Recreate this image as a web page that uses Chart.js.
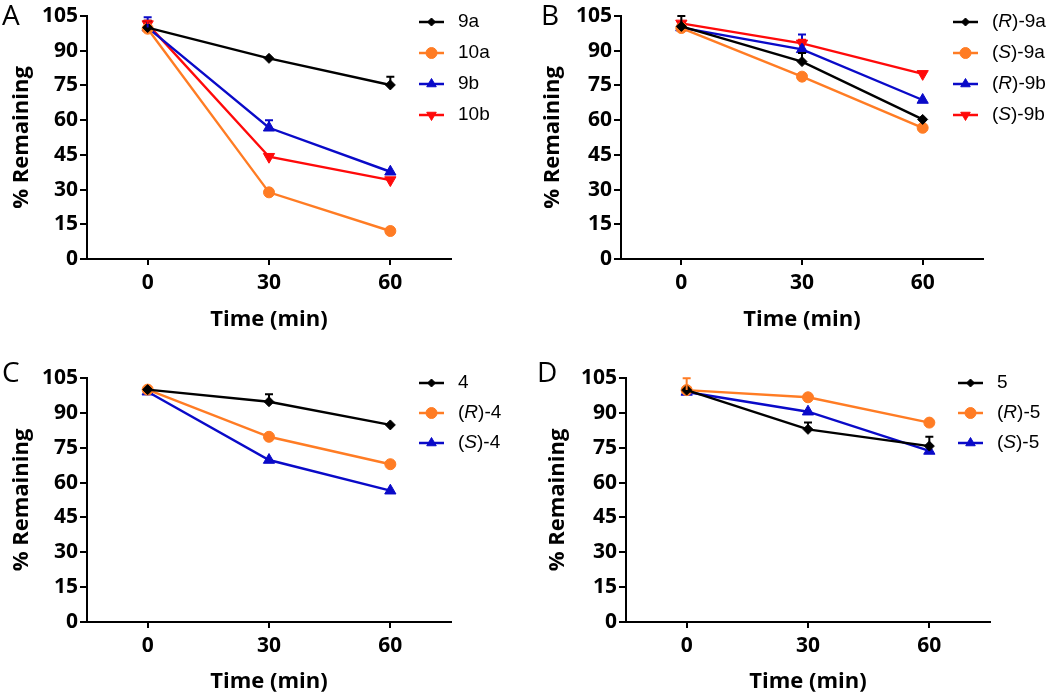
<!DOCTYPE html>
<html>
<head>
<meta charset="utf-8">
<script src="https://cdn.jsdelivr.net/npm/chart.js@4.4.0/dist/chart.umd.min.js"></script>
<style>
  body { margin: 0; background: #fff; width: 1050px; height: 698px; position: relative; overflow: hidden; }
  .panel { position: absolute; }
  .letter { position: absolute; font: 28px "Open Sans", sans-serif; line-height: 28px; color: #000; }
</style>
</head>
<body>
<div class="panel" style="left:0;top:0"><canvas id="chartA" width="525" height="340"></canvas></div>
<div class="panel" style="left:525px;top:0"><canvas id="chartB" width="525" height="340"></canvas></div>
<div class="panel" style="left:0;top:340px"><canvas id="chartC" width="525" height="358"></canvas></div>
<div class="panel" style="left:525px;top:340px"><canvas id="chartD" width="525" height="358"></canvas></div>
<div class="letter" style="left:2px;top:0">A</div>
<div class="letter" style="left:541px;top:0">B</div>
<div class="letter" style="left:2px;top:357px">C</div>
<div class="letter" style="left:537px;top:357px">D</div>
<script>
// time points (min) and axis ticks
const times = [0, 30, 60];
const xTicks = [0, 30, 60];
const yTicks = [0, 15, 30, 45, 60, 75, 90, 105];

// panel A
const labelsA = ["9a", "10a", "9b", "10b"];
const a9a = [100, 86.7, 75.2];
const a10a = [99.5, 28.8, 12.1];
const a9b = [100, 56.7, 37.7];
const a10b = [101.5, 44.2, 34.1];
const errA9a = [3, 0, 3.6];
const errA9b = [4.5, 3.3, 0];
const errA10b = [1.5, 0, 0];

// panel B
const labelsB = ["(R)-9a", "(S)-9a", "(R)-9b", "(S)-9b"];
const bR9a = [100.5, 85.3, 60.3];
const bS9a = [99.8, 78.8, 56.7];
const bR9b = [100, 90.6, 68.7];
const bS9b = [101.8, 93.2, 80];
const errBR9a = [4.5, 3.7, 0];
const errBR9b = [0, 6.4, 0];
const errBS9b = [0, 1.5, 0];

// panel C
const labelsC = ["4", "(R)-4", "(S)-4"];
const c4 = [100, 94.8, 84.8];
const cR4 = [100, 79.7, 67.9];
const cS4 = [99.1, 69.7, 56.5];
const errC4 = [0, 3.2, 0];

// panel D
const labelsD = ["5", "(R)-5", "(S)-5"];
const d5 = [99.8, 82.9, 75.7];
const dR5 = [99.8, 96.7, 85.8];
const dS5 = [99, 90.5, 73.6];
const errD5 = [0, 2.9, 4];
const errDR5 = [5.1, 0, 0];

const BLACK = "#000000";
const ORANGE = "#ff7c24";
const BLUE = "#0a0ac8";
const RED = "#ff0a0a";

Chart.defaults.font.family = "'Open Sans', sans-serif";
Chart.defaults.color = "#000";

function series(label, vals, errs, color, style) {
  const marks = {
    diamond: { pointStyle: "rectRot", radius: 5, rotation: 0 },
    circle: { pointStyle: "circle", radius: 5.5, rotation: 0 },
    up: { pointStyle: "triangle", radius: 6.5, rotation: 0 },
    down: { pointStyle: "triangle", radius: 6.5, rotation: 180 }
  };
  const m = marks[style];
  return {
    label: label,
    data: times.map((t, i) => ({ x: t, y: vals[i] })),
    errors: errs || [],
    borderColor: color,
    backgroundColor: color,
    borderWidth: 2.4,
    pointStyle: m.pointStyle,
    pointRadius: m.radius,
    pointRotation: m.rotation,
    pointBorderWidth: 1,
    legendRadius: style === "diamond" ? 4 : 5.5,
    tension: 0
  };
}

// upward error bars with a cap
const errorBars = {
  id: "errorBars",
  afterDatasetsDraw(chart) {
    const ctx = chart.ctx;
    const ys = chart.scales.y;
    const xs = chart.scales.x;
    chart.data.datasets.forEach((ds) => {
      ds.data.forEach((p, i) => {
        const e = ds.errors[i];
        if (!e) return;
        const x = xs.getPixelForValue(p.x);
        const y0 = ys.getPixelForValue(p.y);
        const y1 = ys.getPixelForValue(p.y + e);
        ctx.save();
        ctx.strokeStyle = ds.borderColor;
        ctx.lineWidth = 2;
        ctx.beginPath();
        ctx.moveTo(x, y0);
        ctx.lineTo(x, y1);
        ctx.moveTo(x - 4, y1);
        ctx.lineTo(x + 4, y1);
        ctx.stroke();
        ctx.restore();
      });
    });
  }
};

function drawLabel(ctx, text, x, y) {
  const plain = "19px 'Liberation Sans', Arial, sans-serif";
  const italic = "italic 19px 'Liberation Sans', Arial, sans-serif";
  const m = text.match(/^\((\w)\)(.*)$/);
  ctx.textBaseline = "middle";
  ctx.textAlign = "left";
  if (!m) {
    ctx.font = plain;
    ctx.fillText(text, x, y);
    return;
  }
  const parts = [["(", plain], [m[1], italic], [")" + m[2], plain]];
  parts.forEach(([s, f]) => {
    ctx.font = f;
    ctx.fillText(s, x, y);
    x += ctx.measureText(s).width;
  });
}

// legend at the right side of each panel
const sideLegend = {
  id: "sideLegend",
  afterDraw(chart, args, opts) {
    const ctx = chart.ctx;
    chart.data.datasets.forEach((ds, i) => {
      const y = opts.y0 + i * opts.step;
      ctx.save();
      ctx.strokeStyle = ds.borderColor;
      ctx.lineWidth = 2.5;
      ctx.beginPath();
      ctx.moveTo(opts.lineX, y);
      ctx.lineTo(opts.lineX + 25, y);
      ctx.stroke();
      ctx.fillStyle = ds.backgroundColor;
      ctx.strokeStyle = ds.borderColor;
      ctx.lineWidth = 1;
      Chart.helpers.drawPoint(ctx, {
        pointStyle: ds.pointStyle,
        radius: ds.legendRadius,
        rotation: ds.pointRotation,
        borderWidth: 1
      }, opts.lineX + 12.5, y);
      ctx.fillStyle = "#000";
      drawLabel(ctx, ds.label, opts.textX, y);
      ctx.restore();
    });
  }
};

function makeChart(id, datasets, geo) {
  return new Chart(document.getElementById(id).getContext("2d"), {
    type: "line",
    data: { datasets: datasets },
    options: {
      responsive: false,
      animation: false,
      layout: { padding: { left: 0, top: geo.top, right: geo.right, bottom: 0 } },
      plugins: {
        legend: { display: false },
        tooltip: { enabled: false },
        sideLegend: geo.legend
      },
      scales: {
        x: {
          type: "linear",
          min: -15,
          max: 75,
          afterBuildTicks: (s) => { s.ticks = xTicks.map((v) => ({ value: v })); },
          afterFit: (s) => { s.height = geo.xHeight; },
          border: { display: true, color: "#000", width: 2 },
          grid: { drawOnChartArea: false, drawTicks: true, tickLength: 6, color: "#000", lineWidth: 2 },
          ticks: { font: { size: 21, weight: "bold" }, color: "#000", padding: 5, maxRotation: 0 },
          title: { display: true, text: "Time (min)", font: { size: 22, weight: "bold" }, color: "#000", padding: { top: 0, bottom: geo.xTitlePad } }
        },
        y: {
          min: 0,
          max: 105,
          afterBuildTicks: (s) => { s.ticks = yTicks.map((v) => ({ value: v })); },
          afterFit: (s) => { s.width = geo.yWidth; },
          border: { display: true, color: "#000", width: 2 },
          grid: { drawOnChartArea: false, drawTicks: true, tickLength: 7, color: "#000", lineWidth: 2 },
          ticks: { font: { size: 21, weight: "bold" }, color: "#000", padding: 2 },
          title: { display: true, text: "% Remaining", font: { size: 22, weight: "bold" }, color: "#000", padding: { top: geo.yTitlePad, bottom: 0 } }
        }
      }
    },
    plugins: [errorBars, sideLegend]
  });
}

makeChart("chartA", [
  series(labelsA[0], a9a, errA9a, BLACK, "diamond"),
  series(labelsA[1], a10a, null, ORANGE, "circle"),
  series(labelsA[2], a9b, errA9b, BLUE, "up"),
  series(labelsA[3], a10b, errA10b, RED, "down")
], { top: 16, right: 74, yWidth: 87, xHeight: 81, xTitlePad: 7, yTitlePad: 9,
     legend: { lineX: 419, textX: 458, y0: 22, step: 31 } });

makeChart("chartB", [
  series(labelsB[0], bR9a, errBR9a, BLACK, "diamond"),
  series(labelsB[1], bS9a, null, ORANGE, "circle"),
  series(labelsB[2], bR9b, errBR9b, BLUE, "up"),
  series(labelsB[3], bS9b, errBS9b, RED, "down")
], { top: 16, right: 67, yWidth: 96, xHeight: 81, xTitlePad: 7, yTitlePad: 15,
     legend: { lineX: 428, textX: 467, y0: 22, step: 31 } });

makeChart("chartC", [
  series(labelsC[0], c4, errC4, BLACK, "diamond"),
  series(labelsC[1], cR4, null, ORANGE, "circle"),
  series(labelsC[2], cS4, null, BLUE, "up")
], { top: 38, right: 74, yWidth: 87, xHeight: 76, xTitlePad: 3, yTitlePad: 9,
     legend: { lineX: 419, textX: 458, y0: 43, step: 30 } });

makeChart("chartD", [
  series(labelsD[0], d5, errD5, BLACK, "diamond"),
  series(labelsD[1], dR5, errDR5, ORANGE, "circle"),
  series(labelsD[2], dS5, null, BLUE, "up")
], { top: 38, right: 60, yWidth: 101, xHeight: 76, xTitlePad: 3, yTitlePad: 20,
     legend: { lineX: 433, textX: 472, y0: 43, step: 30 } });
</script>
</body>
</html>
